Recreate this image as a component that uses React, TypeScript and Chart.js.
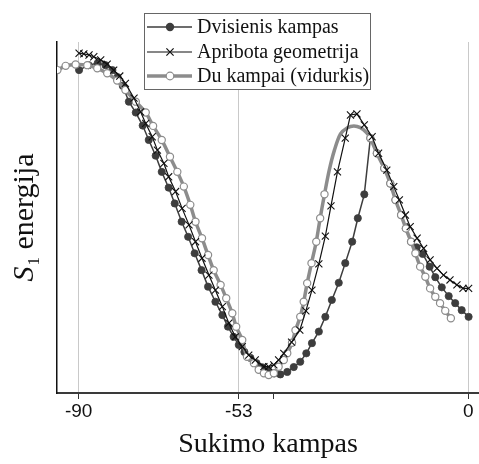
import React, { useEffect, useRef } from 'react';
import { Chart, registerables } from 'chart.js';

Chart.register(...registerables);

// ---- data (energy in arbitrary units) ----
const seriesNames = ['Dvisienis kampas', 'Apribota geometrija', 'Du kampai (vidurkis)'];

const xTicks = [-90, -53, -45, 0];
const xTickLabels = ['-90', '-53', '', '0'];
const gridValues = [-90, -53, 0];

const dvisienisX = [
  -89.9, -87.7, -85.6, -83.8, -82.2, -81.0, -79.8, -78.4, -76.8, -75.2, -73.8, -72.2, -70.8, -69.2,
  -67.8, -66.2, -64.7, -63.2, -61.6, -60.1, -58.4, -56.8, -55.5, -54.2, -53.0, -51.7, -50.3, -48.9,
  -47.5, -46.2, -44.8, -43.4, -41.8, -40.3, -38.8, -37.4, -36.1, -34.5, -33.0, -31.5, -29.9, -28.4,
  -26.8, -25.5, -24.0, -22.6, -21.1, -19.4, -18.0, -16.8, -15.5, -14.4, -13.2, -11.9, -10.5, -8.9,
  -7.6, -6.1, -4.5, -3.0, -1.5, 0.1,
];
const dvisienisY = [
  92.0, 93.4, 94.0, 93.4, 92.0, 90.0, 87.5, 83.0, 79.9, 76.2, 72.1, 67.6, 63.0, 58.5,
  54.0, 48.8, 44.5, 39.8, 35.0, 30.3, 26.0, 22.2, 18.9, 16.0, 13.7, 11.7, 10.0, 8.5,
  7.3, 6.3, 5.6, 5.3, 6.0, 7.4, 8.9, 11.3, 14.2, 17.5, 21.7, 26.5, 31.4, 37.0,
  43.1, 49.8, 56.6, 72.6, 68.3, 64.0, 59.7, 55.0, 50.7, 46.9, 43.1, 41.5, 39.6, 36.0,
  33.0, 30.1, 27.6, 25.6, 23.6, 21.7,
];

const apribotaX = [
  -89.9, -88.8, -87.6, -86.5, -84.9, -83.4, -81.9, -80.5, -79.2, -77.2, -75.7, -74.5, -73.0, -71.8,
  -70.3, -69.2, -67.6, -66.1, -64.5, -63.0, -61.5, -59.9, -58.4, -56.8, -55.3, -53.8, -52.2, -50.7,
  -49.2, -47.2, -46.1, -44.9, -43.8, -42.6, -40.8, -38.9, -37.5, -36.1, -34.5, -33.0, -31.7, -30.2,
  -28.4, -27.2, -25.7, -24.0, -22.2, -20.7, -18.8, -17.2, -15.9, -14.5, -13.4, -11.8, -10.3, -8.8,
  -7.2, -5.7, -4.2, -2.6, -1.2, 0.1,
];
const apribotaY = [
  96.8, 96.6, 96.3, 95.8, 94.9, 93.7, 92.0, 90.3, 88.2, 84.0, 80.1, 76.8, 73.0, 69.2,
  65.4, 61.6, 57.4, 52.6, 47.9, 43.1, 38.4, 33.6, 29.3, 24.6, 19.9, 16.0, 13.2, 10.8,
  9.4, 7.5, 7.5, 8.0, 9.4, 11.3, 14.5, 17.9, 23.4, 29.3, 36.8, 44.7, 53.3, 63.0,
  72.6, 79.2, 79.5, 76.4, 73.0, 68.3, 63.5, 58.8, 55.0, 50.7, 47.4, 44.1, 41.2, 37.9,
  35.5, 33.6, 32.2, 30.8, 29.8, 29.8,
];

const duKampaiX = [
  -94.9, -93.0, -90.7, -88.0, -85.7, -83.4, -81.1, -79.2, -76.8, -74.5, -72.8, -70.8, -68.9, -67.2,
  -65.7, -64.2, -63.0, -61.5, -60.1, -58.8, -57.2, -55.9, -54.5, -53.6, -52.2, -51.1, -49.5, -48.4,
  -47.2, -46.1, -44.9, -43.8, -42.6, -41.8, -40.7, -39.9, -38.8, -38.0, -37.2, -36.2, -35.1, -34.2,
  -33.2, -32.1, -30.9, -29.5, -27.9, -26.4, -24.9, -23.5, -22.6, -21.1, -19.4, -18.0, -16.8, -15.5,
  -14.4, -13.2, -12.2, -11.1, -9.9, -8.8, -7.6, -6.5, -5.3, -4.0,
];
const duKampaiY = [
  92.0, 93.2, 93.6, 93.4, 92.5, 91.1, 89.0, 86.3, 83.0, 79.9, 76.1, 72.1, 67.3, 63.0,
  58.8, 53.6, 48.8, 44.1, 39.3, 35.0, 30.8, 27.0, 22.7, 18.9, 15.1, 10.3, 8.5, 6.6,
  5.6, 5.1, 5.6, 7.5, 9.4, 11.3, 14.3, 17.9, 21.7, 26.0, 31.3, 37.0, 43.1, 49.8,
  56.6, 63.5, 69.2, 73.8, 75.6, 76.1, 75.6, 74.2, 72.6, 68.3, 64.0, 59.7, 55.0, 50.7,
  46.9, 43.1, 39.8, 36.0, 33.1, 29.8, 27.4, 25.6, 23.4, 21.3,
];
// the averaged curve carries no markers across its peak
const duKampaiNoMarkerFrom = -32.6;
const duKampaiNoMarkerTo = -23.0;

const DARK = '#3d3d3d';
const BLACK = '#111111';
const GRAY = '#8c8c8c';

const toPoints = (xs: number[], ys: number[]) => xs.map((x, i) => ({ x, y: ys[i] }));

const overlayPlugin = {
  id: 'overlayText',
  afterDraw(chart: any) {
    const ctx: CanvasRenderingContext2D = chart.ctx;
    const area = chart.chartArea;
    ctx.save();

    // x-axis title
    ctx.fillStyle = '#111';
    ctx.font = "28px 'Liberation Serif'";
    ctx.textAlign = 'center';
    ctx.textBaseline = 'alphabetic';
    ctx.fillText('Sukimo kampas', (area.left + area.right) / 2, 452);

    // y-axis title: S (italic) with subscript 1, then " energija"
    const fMain = "30px 'Liberation Serif'";
    const fItal = "italic 30px 'Liberation Serif'";
    const fSub = "17px 'Liberation Serif'";
    ctx.textAlign = 'left';
    ctx.font = fItal;
    const wS = ctx.measureText('S').width;
    ctx.font = fSub;
    const w1 = ctx.measureText('1').width;
    ctx.font = fMain;
    const wE = ctx.measureText(' energija').width;
    const total = wS + 1 + w1 + wE;
    const cy = (area.top + area.bottom) / 2;
    ctx.translate(33, cy + total / 2);
    ctx.rotate(-Math.PI / 2);
    ctx.font = fItal;
    ctx.fillText('S', 0, 0);
    ctx.font = fSub;
    ctx.fillText('1', wS + 1, 6);
    ctx.font = fMain;
    ctx.fillText(' energija', wS + 1 + w1, 0);
    ctx.setTransform(1, 0, 0, 1, 0, 0);

    // legend
    const bx = 144.5, by = 13.5, bw = 226, bh = 76;
    ctx.fillStyle = '#ffffff';
    ctx.fillRect(bx, by, bw, bh);
    ctx.strokeStyle = '#666';
    ctx.lineWidth = 1;
    ctx.strokeRect(bx, by, bw, bh);
    const rows = [27, 52, 76];
    const x0 = 147, x1 = 192, xm = 170;
    rows.forEach((ry, i) => {
      ctx.beginPath();
      ctx.moveTo(x0, ry);
      ctx.lineTo(x1, ry);
      if (i === 0) { ctx.strokeStyle = DARK; ctx.lineWidth = 1.5; }
      else if (i === 1) { ctx.strokeStyle = BLACK; ctx.lineWidth = 1.2; }
      else { ctx.strokeStyle = GRAY; ctx.lineWidth = 3.5; }
      ctx.stroke();
      if (i === 0) {
        ctx.beginPath();
        ctx.arc(xm, ry, 4.2, 0, Math.PI * 2);
        ctx.fillStyle = DARK;
        ctx.fill();
      } else if (i === 1) {
        const d = 3.6;
        ctx.beginPath();
        ctx.moveTo(xm - d, ry - d); ctx.lineTo(xm + d, ry + d);
        ctx.moveTo(xm - d, ry + d); ctx.lineTo(xm + d, ry - d);
        ctx.strokeStyle = BLACK; ctx.lineWidth = 1.2;
        ctx.stroke();
      } else {
        ctx.beginPath();
        ctx.arc(xm, ry, 3.8, 0, Math.PI * 2);
        ctx.fillStyle = '#fff';
        ctx.fill();
        ctx.strokeStyle = GRAY; ctx.lineWidth = 1.2;
        ctx.stroke();
      }
      ctx.fillStyle = '#111';
      ctx.font = "20px 'Liberation Serif'";
      ctx.textBaseline = 'middle';
      ctx.fillText(seriesNames[i], 197, ry + 1);
    });
    ctx.restore();
  },
};

export default function App() {
  const ref = useRef<HTMLCanvasElement | null>(null);

  useEffect(() => {
    document.body.style.margin = '0';
    const canvas = ref.current;
    if (!canvas) return;
    const chart = new Chart(canvas, {
      type: 'line',
      data: {
        datasets: [
          {
            label: seriesNames[0],
            data: toPoints(dvisienisX, dvisienisY),
            borderColor: DARK,
            backgroundColor: DARK,
            borderWidth: 1.5,
            pointRadius: 3.6,
            pointBorderWidth: 0.8,
            pointBorderColor: DARK,
            pointBackgroundColor: DARK,
            tension: 0,
            order: 3,
          },
          {
            label: seriesNames[1],
            data: toPoints(apribotaX, apribotaY),
            borderColor: BLACK,
            backgroundColor: BLACK,
            borderWidth: 1.2,
            pointStyle: 'crossRot',
            pointRadius: 5,
            pointBorderWidth: 1.1,
            pointBorderColor: BLACK,
            tension: 0,
            order: 1,
          },
          {
            label: seriesNames[2],
            data: toPoints(duKampaiX, duKampaiY),
            borderColor: GRAY,
            backgroundColor: '#ffffff',
            borderWidth: 3.5,
            pointRadius: (c: any) => {
              const r = c.raw;
              return r && r.x > duKampaiNoMarkerFrom && r.x < duKampaiNoMarkerTo ? 0 : 3.6;
            },
            pointBorderWidth: 1.2,
            pointBorderColor: GRAY,
            pointBackgroundColor: '#ffffff',
            tension: 0.3,
            order: 2,
          },
        ],
      },
      options: {
        animation: false,
        responsive: false,
        devicePixelRatio: 1,
        layout: { autoPadding: false, padding: { top: 42, left: 0, right: 0, bottom: 0 } },
        plugins: { legend: { display: false }, tooltip: { enabled: false } },
        scales: {
          x: {
            type: 'linear',
            min: -95,
            max: 2.5,
            afterBuildTicks: (axis: any) => {
              axis.ticks = xTicks.map((v) => ({ value: v }));
            },
            afterFit: (scale: any) => {
              scale.height = 71;
              scale.paddingLeft = 0;
              scale.paddingRight = 0;
            },
            ticks: {
              autoSkip: false,
              maxRotation: 0,
              padding: 1,
              color: '#111',
              font: { family: "'Liberation Sans'", size: 19 },
              callback: (value: any) => {
                const i = xTicks.indexOf(Number(value));
                return i >= 0 ? xTickLabels[i] : '';
              },
            },
            grid: {
              color: (c: any) =>
                c.tick && gridValues.includes(c.tick.value) ? '#c9c9c9' : 'rgba(0,0,0,0)',
              tickColor: '#333',
              tickLength: 6,
              lineWidth: 1,
            },
            border: { color: '#3a3a3a', width: 2 },
          },
          y: {
            type: 'linear',
            min: 0,
            max: 100,
            afterFit: (scale: any) => {
              scale.width = 57;
              scale.paddingTop = 0;
              scale.paddingBottom = 0;
            },
            ticks: { display: false },
            grid: { display: false },
            border: { color: '#111', width: 1.5 },
          },
        },
      },
      plugins: [overlayPlugin],
    } as any);
    return () => chart.destroy();
  }, []);

  return <canvas ref={ref} width={479} height={464} style={{ display: 'block' }} />;
}
